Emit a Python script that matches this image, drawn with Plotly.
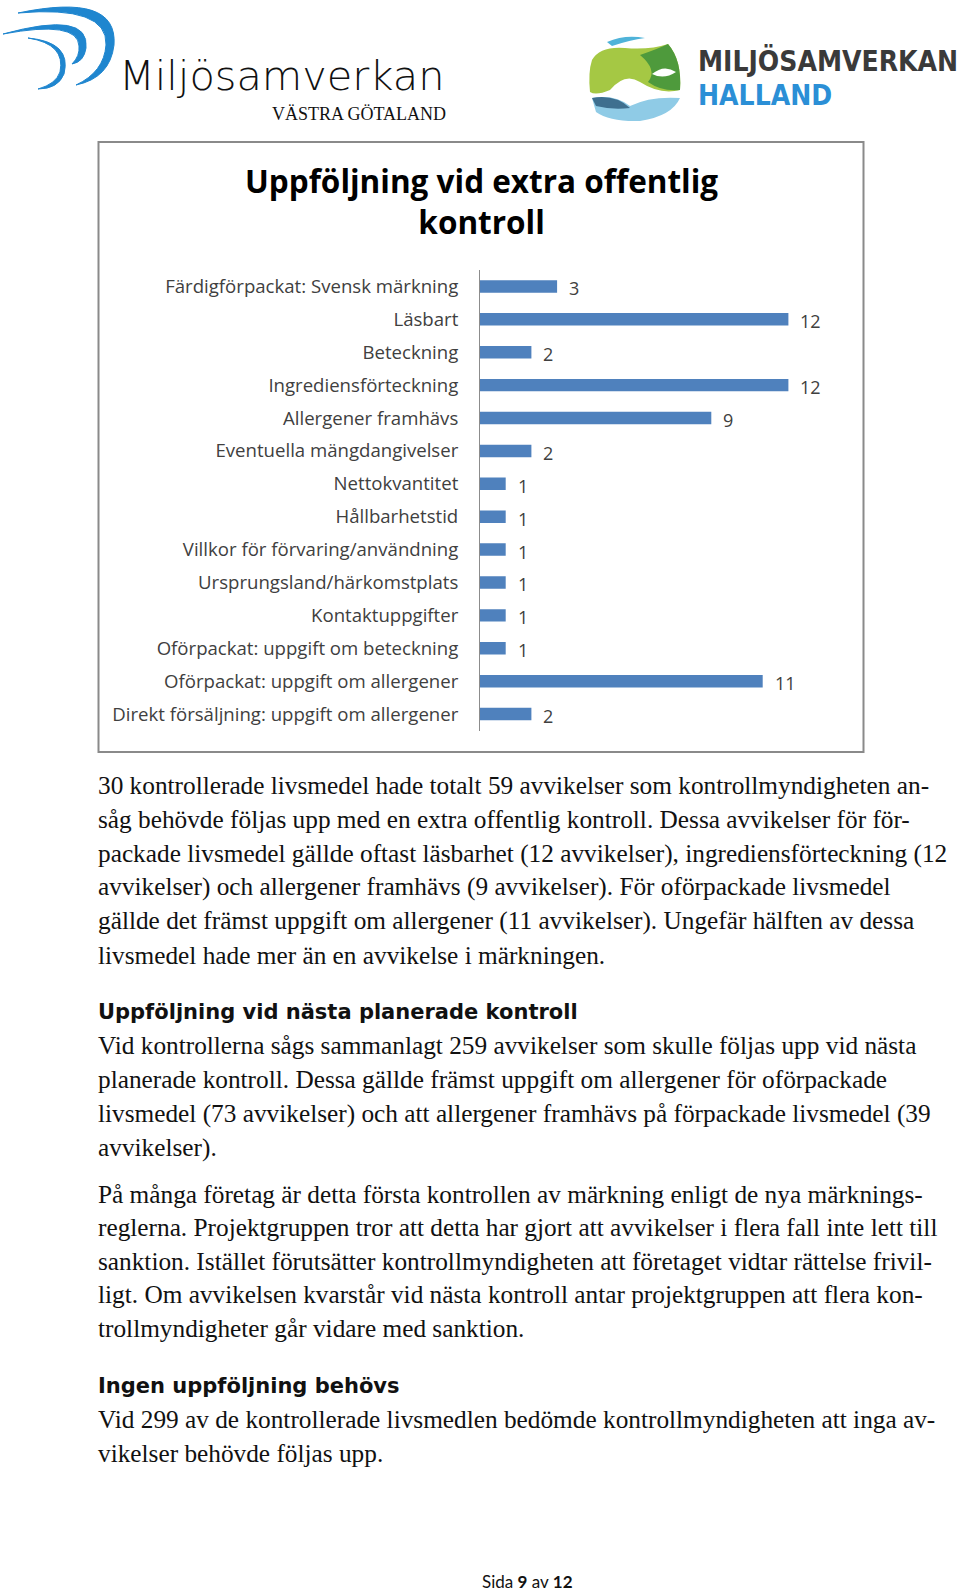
import plotly.graph_objects as go

# ---------------- data ----------------
categories = [
    "Färdigförpackat: Svensk märkning",
    "Läsbart",
    "Beteckning",
    "Ingrediensförteckning",
    "Allergener framhävs",
    "Eventuella mängdangivelser",
    "Nettokvantitet",
    "Hållbarhetstid",
    "Villkor för förvaring/användning",
    "Ursprungsland/härkomstplats",
    "Kontaktuppgifter",
    "Oförpackat: uppgift om beteckning",
    "Oförpackat: uppgift om allergener",
    "Direkt försäljning: uppgift om allergener",
]
values = [3, 12, 2, 12, 9, 2, 1, 1, 1, 1, 1, 1, 11, 2]

chart_title = "Uppföljning vid extra offentlig<br>kontroll"

para1 = [
    "30 kontrollerade livsmedel hade totalt 59 avvikelser som kontrollmyndigheten an-",
    "såg behövde följas upp med en extra offentlig kontroll. Dessa avvikelser för för-",
    "packade livsmedel gällde oftast läsbarhet (12 avvikelser), ingrediensförteckning (12",
    "avvikelser) och allergener framhävs (9 avvikelser). För oförpackade livsmedel",
    "gällde det främst uppgift om allergener (11 avvikelser). Ungefär hälften av dessa",
    "livsmedel hade mer än en avvikelse i märkningen.",
]
heading2 = "Uppföljning vid nästa planerade kontroll"
para2 = [
    "Vid kontrollerna sågs sammanlagt 259 avvikelser som skulle följas upp vid nästa",
    "planerade kontroll. Dessa gällde främst uppgift om allergener för oförpackade",
    "livsmedel (73 avvikelser) och att allergener framhävs på förpackade livsmedel (39",
    "avvikelser).",
]
para3 = [
    "På många företag är detta första kontrollen av märkning enligt de nya märknings-",
    "reglerna. Projektgruppen tror att detta har gjort att avvikelser i flera fall inte lett till",
    "sanktion. Istället förutsätter kontrollmyndigheten att företaget vidtar rättelse frivil-",
    "ligt. Om avvikelsen kvarstår vid nästa kontroll antar projektgruppen att flera kon-",
    "trollmyndigheter går vidare med sanktion.",
]
heading3 = "Ingen uppföljning behövs"
para4 = [
    "Vid 299 av de kontrollerade livsmedlen bedömde kontrollmyndigheten att inga av-",
    "vikelser behövde följas upp.",
]
footer = "Sida <b>9</b> av <b>12</b>"

# ---------------- layout constants ----------------
W, H = 960, 1593
BAR_COLOR = "#4f81bd"
LABEL_FONT = "'Open Sans', 'Noto Sans', sans-serif"
SERIF = "'Liberation Serif', 'DejaVu Serif', serif"
HEAD_FONT = "'DejaVu Sans', Verdana, sans-serif"

px_per_unit = 25.7
x0_px, x1_px = 480, 864
y_top_px, y_bot_px = 270, 730.5

fig = go.Figure()

fig.add_trace(go.Bar(
    x=values, y=categories, orientation="h",
    marker=dict(color=BAR_COLOR, line=dict(width=0)),
    width=0.38, hoverinfo="skip", showlegend=False,
))

# value labels through the axis scales
for c, v in zip(categories, values):
    fig.add_annotation(x=v, y=c, xref="x", yref="y", text=str(v),
                       showarrow=False, xanchor="left", yanchor="middle",
                       xshift=10, yshift=-2,
                       font=dict(family=LABEL_FONT, size=18, color="#404040"))

# hidden pixel coordinate axes for page elements
fig.update_layout(
    xaxis2=dict(domain=[0, 1], range=[0, W], visible=False, fixedrange=True,
                anchor="y2"),
    yaxis2=dict(domain=[0, 1], range=[H, 0], visible=False, fixedrange=True,
                anchor="x2"),
)

def add_text(x, y, text, size, family, color="#111111", anchor="left", bold=False,
             weight=None):
    font = dict(family=family, size=size, color=color)
    if weight is not None:
        font["weight"] = weight
    fig.add_annotation(x=x, y=y, xref="x2", yref="y2",
                       text=("<b>%s</b>" % text) if bold else text,
                       showarrow=False, xanchor=anchor, yanchor="middle",
                       font=font)

# chart frame
fig.add_shape(type="rect", xref="x2", yref="y2", x0=98.5, x1=863.5, y0=142, y1=752,
              line=dict(color="#8a8a8a", width=2), fillcolor="rgba(0,0,0,0)", layer="below")

# chart title
add_text(481, 201, chart_title, 31.5, LABEL_FONT, color="#000000", anchor="center", bold=True)

# body text
BODY = 25.3
TX = 95.5
line_ys1 = [785.3, 818.8, 853.4, 886.9, 920.4, 955.0]
for y, t in zip(line_ys1, para1):
    add_text(TX, y, t, BODY, SERIF)
add_text(TX, 1011.8, heading2, 21, HEAD_FONT, bold=True)
for y, t in zip([1045.4, 1078.9, 1113.4, 1147.0], para2):
    add_text(TX, y, t, BODY, SERIF)
for y, t in zip([1193.7, 1227.2, 1260.7, 1294.3, 1327.8], para3):
    add_text(TX, y, t, BODY, SERIF)
add_text(TX, 1385.7, heading3, 21, HEAD_FONT, bold=True)
for y, t in zip([1419.2, 1452.7], para4):
    add_text(TX, y, t, BODY, SERIF)

add_text(527, 1581, footer, 17, "Lato, 'Open Sans', sans-serif", anchor="center")

# ---------------- logos ----------------
LBLUE = "#1f86cf"
fig.add_shape(type="path", xref="x2", yref="y2",
              path="M 18,13 Q 118,-8 114,45 Q 110,78 76,85 Q 104,72 106,45 Q 108,5 18,13 Z",
              fillcolor=LBLUE, line=dict(color=LBLUE, width=1))
fig.add_shape(type="path", xref="x2", yref="y2",
              path="M 3,34 Q 90,10 86,48 Q 84,62 72,64 Q 80,56 79,46 Q 78,20 3,34 Z",
              fillcolor=LBLUE, line=dict(color=LBLUE, width=1))
fig.add_shape(type="path", xref="x2", yref="y2",
              path="M 28,38 Q 72,42 64,74 Q 58,89 38,89 Q 56,84 60,72 Q 66,44 28,38 Z",
              fillcolor=LBLUE, line=dict(color=LBLUE, width=1))
add_text(117, 75, "Miljösamverkan", 41.5, "'DejaVu Sans', sans-serif", color="#111111",
         weight=200)
add_text(448, 114, "VÄSTRA GÖTALAND", 18, SERIF, color="#111111", anchor="right")

# right logo (stylised globe)
fig.add_shape(type="path", xref="x2", yref="y2",
              path="M 607,42 Q 625,34 645,38 Q 630,40 612,46 Z",
              fillcolor="#4fb3d9", line=dict(width=0))
fig.add_shape(type="path", xref="x2", yref="y2",
              path="M 592,60 Q 600,46 625,48 Q 650,50 668,44 Q 682,60 680,90 Q 660,95 640,82 Q 625,72 610,90 Q 596,96 590,92 Q 588,72 592,60 Z",
              fillcolor="#a5c844", line=dict(width=0))
fig.add_shape(type="path", xref="x2", yref="y2",
              path="M 640,55 Q 660,48 668,44 Q 682,60 680,90 Q 662,92 648,82 Q 658,70 640,55 Z",
              fillcolor="#4e9a3c", line=dict(width=0))
fig.add_shape(type="path", xref="x2", yref="y2",
              path="M 652,74 Q 664,64 676,72 Q 664,80 652,74 Z",
              fillcolor="#ffffff", line=dict(width=0))
fig.add_shape(type="path", xref="x2", yref="y2",
              path="M 592,98 Q 615,94 630,106 Q 650,96 680,98 Q 672,116 640,121 Q 610,122 596,112 Z",
              fillcolor="#8fcbe6", line=dict(width=0))
fig.add_shape(type="path", xref="x2", yref="y2",
              path="M 592,98 Q 615,94 630,108 Q 612,110 596,106 Z",
              fillcolor="#3e6f8f", line=dict(width=0))
add_text(696, 61, "MILJÖSAMVERKAN", 28, "'DejaVu Sans Condensed', 'DejaVu Sans', sans-serif",
         color="#3a3a3a", bold=True)
add_text(696, 95, "HALLAND", 28, "'DejaVu Sans Condensed', 'DejaVu Sans', sans-serif",
         color="#2b8fd6", bold=True)

# ---------------- axes for bar chart ----------------
fig.update_layout(
    width=W, height=H,
    margin=dict(l=0, r=0, t=0, b=0),
    paper_bgcolor="white", plot_bgcolor="rgba(0,0,0,0)",
    xaxis=dict(domain=[x0_px / W, x1_px / W],
               range=[0, (x1_px - x0_px) / px_per_unit],
               visible=False, fixedrange=True, anchor="y"),
    yaxis=dict(domain=[1 - y_bot_px / H, 1 - y_top_px / H],
               autorange="reversed", type="category",
               showline=True, linecolor="#8c8c8c", linewidth=1,
               showgrid=False, zeroline=False, ticks="",
               ticklabelstandoff=17,
               tickfont=dict(family=LABEL_FONT, size=18.6, color="#404040"),
               fixedrange=True, anchor="x"),
    bargap=0.6,
)

fig.write_html("out.html", config={"displayModeBar": False},
               post_script="document.body.style.margin='0';document.body.style.overflow='hidden';")
